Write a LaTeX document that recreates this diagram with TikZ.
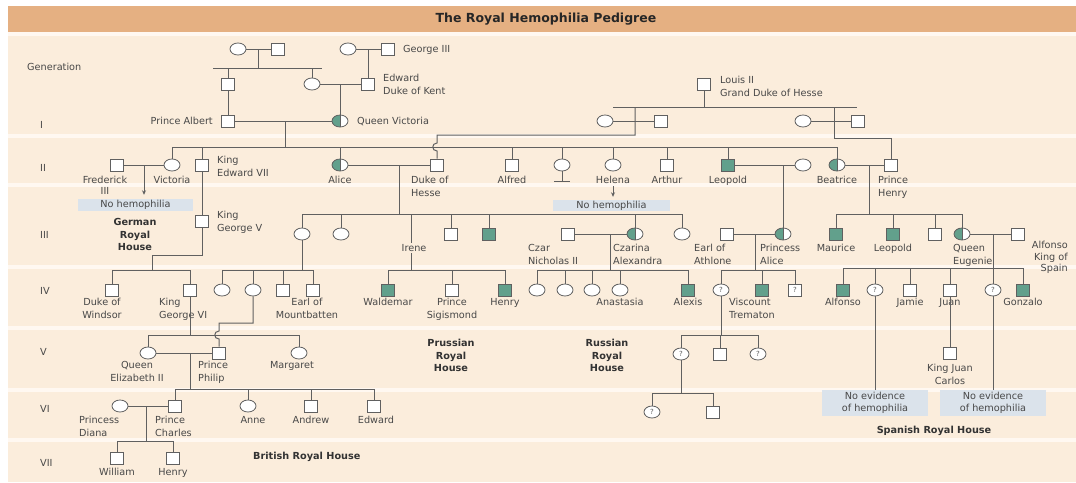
\documentclass[tikz,border=0pt]{standalone}
\usepackage{fontspec}
\setsansfont{DejaVu Sans}
\usetikzlibrary{shapes.geometric,arrows.meta,positioning}

\definecolor{bgpeach}{RGB}{251,237,220}
\definecolor{band}{RGB}{229,176,130}
\definecolor{stripe}{RGB}{255,248,241}
\definecolor{lncol}{RGB}{96,96,96}
\definecolor{carcol}{RGB}{98,160,140}
\definecolor{boxcol}{RGB}{219,227,235}
\definecolor{txtcol}{RGB}{72,72,72}

\tikzset{
  sym/.style={draw=lncol, line width=0.8pt, fill=white, inner sep=0pt},
  male/.style={sym, rectangle, minimum width=13pt, minimum height=12pt},
  fem/.style={sym, ellipse, minimum width=16pt, minimum height=12pt},
  affm/.style={male, fill=carcol},
  carrier/.style={fem, path picture={
      \fill[carcol] (path picture bounding box.south west) rectangle (path picture bounding box.north);
      \draw[lncol, line width=0.6pt] (path picture bounding box.south) -- (path picture bounding box.north);}},
  unkf/.style={fem, font=\sffamily\fontsize{7}{7}\selectfont, text=lncol},
  unkm/.style={male, font=\sffamily\fontsize{7}{7}\selectfont, text=lncol},
  lbl/.style={font=\sffamily\fontsize{9.7}{12.5}\selectfont, text=txtcol, inner sep=0pt, align=center, anchor=base},
  lbll/.style={lbl, align=left, anchor=base west},
  house/.style={lbl, font=\sffamily\bfseries\fontsize{9.7}{12.5}\selectfont, text=black!80},
  nobox/.style={fill=boxcol, inner sep=0pt, align=center, text=txtcol,
      font=\sffamily\fontsize{9.7}{12.5}\selectfont},
  ln/.style={lncol, line width=1pt},
  arr/.style={ln, -{Stealth[length=4.5pt,width=4pt]}},
}

\begin{document}
\begin{tikzpicture}[x=1pt, y=-1pt]
        \useasboundingbox (0,0) rectangle (1076,482);

        % Background and title band
        \fill[bgpeach] (8,6) rectangle (1076,482);
        \fill[band] (8,6) rectangle (1076,32);
        \foreach \y in {32,134,183,265,326,388,438}
            \fill[stripe] (8,\y) rectangle (1076,\y+4);
        \node[font=\sffamily\bfseries\fontsize{12.5}{14}\selectfont, text=black!85] (title) at (546,19) {The Royal Hemophilia Pedigree};

        % Generation labels
        \node[lbll] (gen0) at (27,70) {Generation};
        \node[lbll] (gen1) at (40,128.5) {I};
        \node[lbll] (gen2) at (40,171.5) {II};
        \node[lbll] (gen3) at (40,238.5) {III};
        \node[lbll] (gen4) at (40,294.5) {IV};
        \node[lbll] (gen5) at (40,355.5) {V};
        \node[lbll] (gen6) at (40,412.5) {VI};
        \node[lbll] (gen7) at (40,466.5) {VII};

        % Top couples
        \node[fem] (gAf) at (238,49) {};
        \node[male] (gAm) at (278,49) {};
        \node[fem] (gBf) at (348,49) {};
        \node[male] (george) at (388,49) {};
        \node[male] (albF) at (228,84) {};
        \node[fem] (vicM) at (312,84) {};
        \node[male] (edw) at (368,84) {};
        \node[lbll] at (403,52.5) {George III};
        \node[lbll] at (383,94) {Edward\\Duke of Kent};

        % Generation I
        \node[male] (albert) at (228,121) {};
        \node[carrier] (victoria) at (340,121) {};
        \node[male] (louis) at (704,84) {};
        \node[fem] (hAf) at (605,121) {};
        \node[male] (hAm) at (661,121) {};
        \node[fem] (hBf) at (803,121) {};
        \node[male] (hBm) at (858,121) {};
        \node[lbl, anchor=base east] at (213,124.5) {Prince Albert};
        \node[lbll] at (357,124.5) {Queen Victoria};
        \node[lbll] at (720,96) {Louis II\\Grand Duke of Hesse};

        % Generation II
        \node[male] (fred) at (117,165) {};
        \node[fem] (vic2) at (172,165) {};
        \node[male] (edw7) at (202,165) {};
        \node[carrier] (alice) at (340,165) {};
        \node[male] (hesse) at (437,165) {};
        \node[male] (alfred) at (512,165) {};
        \node[fem] (nnf) at (562,165) {};
        \node[fem] (helena) at (613,165) {};
        \node[male] (arthur) at (667,165) {};
        \node[affm] (leo) at (728,165) {};
        \node[fem] (leoW) at (803,165) {};
        \node[carrier] (beatrice) at (837,165) {};
        \node[male] (henry) at (891,165) {};
        \node[lbl, font=\sffamily\fontsize{9.7}{11}\selectfont] at (105,194.5) {Frederick\\III};
        \node[lbl] at (172,183.5) {Victoria};
        \node[lbll] at (217,176) {King\\Edward VII};
        \node[lbl] at (340,183.5) {Alice};
        \node[lbll] at (411,196) {Duke of\\Hesse};
        \node[lbl] at (512,183.5) {Alfred};
        \node[lbl] at (613,183.5) {Helena};
        \node[lbl] at (667,183.5) {Arthur};
        \node[lbl] at (728,183.5) {Leopold};
        \node[lbl] at (837,183.5) {Beatrice};
        \node[lbll] at (878,196) {Prince\\Henry};
        \node[nobox, minimum width=115pt, minimum height=12pt] (nh1) at (135.5,205) {No hemophilia};
        \node[nobox, minimum width=117pt, minimum height=11pt] (nh2) at (611.5,205.5) {No hemophilia};

        % Generation III
        \node[male] (kgv) at (202,221) {};
        \node[fem] (hv) at (302,234) {};
        \node[fem] (ella) at (341,234) {};
        \coordinate (irene) at (411,234);
        \node[male] (hs1) at (451,234) {};
        \node[affm] (hs2) at (489,234) {};
        \node[male] (czar) at (568,234) {};
        \node[carrier] (czarina) at (635,234) {};
        \node[fem] (hs3) at (682,234) {};
        \node[male] (athlone) at (727,234) {};
        \node[carrier] (palice) at (783,234) {};
        \node[affm] (maurice) at (836,234) {};
        \node[affm] (leo2) at (893,234) {};
        \node[male] (bs3) at (935,234) {};
        \node[carrier] (eugenie) at (962,234) {};
        \node[male] (alfonsoK) at (1018,234) {};
        \node[lbll] at (217,231) {King\\George V};
        \node[house] at (135,250.5) {German\\Royal\\House};
        \node[lbll] at (528,264) {Czar\\Nicholas II};
        \node[lbll] at (613,264) {Czarina\\Alexandra};
        \node[lbll] at (694,264) {Earl of\\Athlone};
        \node[lbll] at (760,264) {Princess\\Alice};
        \node[lbl] at (836,251.5) {Maurice};
        \node[lbl] at (893,251.5) {Leopold};
        \node[lbll] at (953,264) {Queen\\Eugenie};
        \node[lbl, align=right, anchor=base east, font=\sffamily\fontsize{9.7}{11.5}\selectfont] at (1068,271.5) {Alfonso\\King of\\Spain};

        % Generation IV
        \node[male] (dwin) at (112,290) {};
        \node[male] (kg6) at (190,290) {};
        \node[fem] (m1) at (222,290) {};
        \node[fem] (m2) at (253,290) {};
        \node[male] (m3) at (283,290) {};
        \node[male] (mount) at (313,290) {};
        \node[affm] (waldemar) at (388,290) {};
        \node[male] (sigis) at (452,290) {};
        \node[affm] (henryP) at (505,290) {};
        \node[fem] (an1) at (537,290) {};
        \node[fem] (an2) at (565,290) {};
        \node[fem] (an3) at (592,290) {};
        \node[fem] (an4) at (620,290) {};
        \node[affm] (alexis) at (688,290) {};
        \node[unkf] (tr1) at (721,290) {?};
        \node[affm] (trem) at (762,290) {};
        \node[unkm] (tr3) at (795,290) {?};
        \node[affm] (alfonso) at (843,290) {};
        \node[unkf] (sp2) at (875,290) {?};
        \node[male] (jamie) at (910,290) {};
        \node[male] (juan) at (950,290) {};
        \node[unkf] (sp5) at (993,290) {?};
        \node[affm] (gonzalo) at (1023,290) {};
        \node[lbl] at (102,318) {Duke of\\Windsor};
        \node[lbll] at (159,318) {King\\George VI};
        \node[lbl] at (307,318) {Earl of\\Mountbatten};
        \node[lbl] at (388,305.5) {Waldemar};
        \node[lbl] at (452,318) {Prince\\Sigismond};
        \node[lbl] at (505,305.5) {Henry};
        \node[lbl] at (620,305.5) {Anastasia};
        \node[lbl] at (688,305.5) {Alexis};
        \node[lbll] at (729,318) {Viscount\\Trematon};
        \node[lbl] at (843,305.5) {Alfonso};
        \node[lbl] at (910,305.5) {Jamie};
        \node[lbl] at (950,305.5) {Juan};
        \node[lbl] at (1023,305.5) {Gonzalo};

        % Generation V
        \node[fem] (eliz) at (148,353) {};
        \node[male] (philip) at (219,353) {};
        \node[fem] (marg) at (299,353) {};
        \node[unkf] (v1) at (681,354) {?};
        \node[male] (v2) at (720,354) {};
        \node[unkf] (v3) at (758,354) {?};
        \node[male] (jcarlos) at (950,353) {};
        \node[lbl] at (137,381) {Queen\\Elizabeth II};
        \node[lbll] at (198,381) {Prince\\Philip};
        \node[lbl] at (292,368.5) {Margaret};
        \node[lbl] at (950,384) {King Juan\\Carlos};
        \node[house] at (451,371.5) {Prussian\\Royal\\House};
        \node[house] at (607,371.5) {Russian\\Royal\\House};

        % Generation VI
        \node[fem] (diana) at (120,406) {};
        \node[male] (charles) at (175,406) {};
        \node[fem] (anne) at (248,406) {};
        \node[male] (andrew) at (311,406) {};
        \node[male] (edwardP) at (374,406) {};
        \node[unkf] (w1) at (652,412) {?};
        \node[male] (w2) at (713,412) {};
        \node[lbll] at (79,436) {Princess\\Diana};
        \node[lbll] at (155,436) {Prince\\Charles};
        \node[lbl] at (253,423.5) {Anne};
        \node[lbl] at (311,423.5) {Andrew};
        \node[lbl] at (376,423.5) {Edward};
        \node[nobox, minimum width=106pt, minimum height=26pt] (ne1) at (875,403) {No evidence\\of hemophilia};
        \node[nobox, minimum width=106pt, minimum height=26pt] (ne2) at (993,403) {No evidence\\of hemophilia};
        \node[house] at (934,433.5) {Spanish Royal House};

        % Generation VII
        \node[male] (william) at (117,458) {};
        \node[male] (harry) at (173,458) {};
        \node[lbl] at (117,475.5) {William};
        \node[lbl] at (173,475.5) {Henry};
        \node[house, anchor=base west] at (253,459.5) {British Royal House};

        % Lines: top couples
        \draw[ln] (gAf) -- (gAm);
        \draw[ln] (gBf) -- (george);
        \coordinate (sA) at (258,68);
        \draw[ln] (sA |- gAm) -- (sA);
        \draw[ln] ([xshift=-15pt]albF |- sA) -- ([xshift=10pt]vicM |- sA);
        \draw[ln] (albF) -- (albF |- sA);
        \draw[ln] (vicM) -- (vicM |- sA);
        \draw[ln] (edw |- george) -- (edw);
        \draw[ln] (albF) -- (albert);
        \draw[ln] (vicM) -- (edw);
        \draw[ln] (victoria |- edw) -- (victoria);

        % Victoria's children
        \draw[ln] (albert) -- (victoria);
        \coordinate (sib2) at (285,147);
        \draw[ln] (sib2 |- albert) -- (sib2);
        \draw[ln] (vic2 |- sib2) -- (beatrice |- sib2);
        \foreach \who in {vic2,edw7,alice,alfred,nnf,helena,arthur,leo,beatrice}
            \draw[ln] (\who) -- (\who |- sib2);
        \draw[ln] (nnf) -- ++(0,16) coordinate (nnfb);
        \draw[ln] ([xshift=-8pt]nnfb) -- ([xshift=8pt]nnfb);

        % Louis II of Hesse
        \coordinate (sibL) at (704,107);
        \coordinate (hAd) at (635,107);
        \coordinate (hBd) at (834,107);
        \draw[ln] (louis) -- (sibL);
        \draw[ln] ([xshift=-22pt]hAd) -- ([xshift=23pt]hBd);
        \draw[ln] (hAf) -- (hAm);
        \draw[ln] (hBf) -- (hBm);
        \draw[ln] (hAd) -- ++(0,28) -| ([yshift=4pt]hesse |- sib2)
            to[out=180, in=180, looseness=1.8] ([yshift=-4pt]hesse |- sib2) -- (hesse);
        \draw[ln] (hBd) -- ++(0,31) -| (henry);

        % Frederick III and Victoria
        \draw[ln] (fred) -- (vic2);
        \coordinate (dFV) at (144,165);
        \draw[arr] (dFV) -- ([yshift=4pt]dFV |- nh1.north);
        \draw[arr] ([yshift=-21pt]helena.center) -- ([yshift=3pt]helena |- nh2.north);

        % Edward VII line
        \coordinate (sibG) at (152,270);
        \draw[ln] (edw7) -- (kgv);
        \draw[ln] (kgv) -- ++(0,34) -| (sibG);
        \draw[ln] (dwin |- sibG) -- (kg6 |- sibG);
        \foreach \who in {dwin,kg6}
            \draw[ln] (\who) -- (\who |- sibG);

        % Alice and the Duke of Hesse
        \draw[ln] (alice) -- (hesse);
        \coordinate (sib3) at (399,214);
        \draw[ln] (sib3 |- hesse) -- (sib3);
        \draw[ln] (hv |- sib3) -- (hs3 |- sib3);
        \foreach \who in {hv,ella,hs1,hs2,czarina,hs3}
            \draw[ln] (\who) -- (\who |- sib3);

        % Irene
        \coordinate (sibI) at (411,270);
        \draw[ln] (irene |- sib3) -- (sibI);
        \node[lbl, fill=bgpeach, inner sep=1pt] at (414,251.5) {Irene};
        \draw[ln] (waldemar |- sibI) -- (henryP |- sibI);
        \foreach \who in {waldemar,sigis,henryP}
            \draw[ln] (\who) -- (\who |- sibI);

        % Czar Nicholas II
        \draw[ln] (czar) -- (czarina);
        \coordinate (sibR) at (610,270);
        \draw[ln] (sibR |- czar) -- (sibR);
        \draw[ln] (an1 |- sibR) -- (alexis |- sibR);
        \foreach \who in {an1,an2,an3,an4,alexis}
            \draw[ln] (\who) -- (\who |- sibR);

        % Victoria of Hesse
        \coordinate (sibM) at (302,270);
        \draw[ln] (hv) -- (sibM);
        \draw[ln] (m1 |- sibM) -- (mount |- sibM);
        \foreach \who in {m1,m2,m3,mount}
            \draw[ln] (\who) -- (\who |- sibM);

        % George VI and Elizabeth II
        \coordinate (sib5) at (190,335);
        \draw[ln] (kg6) -- (sib5);
        \draw[ln] (eliz |- sib5) -- (marg |- sib5);
        \draw[ln] (eliz) -- (eliz |- sib5);
        \draw[ln] (marg) -- (marg |- sib5);
        \draw[ln] (m2) -- ++(0,33) -| ([yshift=4pt]philip |- sib5)
            to[out=180, in=180, looseness=1.8] ([yshift=-4pt]philip |- sib5) -- (philip);
        \draw[ln] (eliz) -- (philip);
        \coordinate (sib6) at (190,389);
        \draw[ln] (sib6 |- philip) -- (sib6);
        \draw[ln] (charles |- sib6) -- (edwardP |- sib6);
        \foreach \who in {charles,anne,andrew,edwardP}
            \draw[ln] (\who) -- (\who |- sib6);
        \draw[ln] (diana) -- (charles);
        \coordinate (sib7) at (146,441);
        \draw[ln] (sib7 |- charles) -- (sib7);
        \draw[ln] (william |- sib7) -- (harry |- sib7);
        \foreach \who in {william,harry}
            \draw[ln] (\who) -- (\who |- sib7);

        % Leopold and Princess Alice
        \draw[ln] (leo) -- (leoW);
        \draw[ln] (palice |- leo) -- (palice);
        \draw[ln] (athlone) -- (palice);
        \coordinate (sibA) at (755,270);
        \draw[ln] (sibA |- athlone) -- (sibA);
        \draw[ln] (tr1 |- sibA) -- (tr3 |- sibA);
        \foreach \who in {tr1,trem,tr3}
            \draw[ln] (\who) -- (\who |- sibA);
        \coordinate (sibT) at (721,335);
        \draw[ln] (tr1) -- (sibT);
        \draw[ln] (v1 |- sibT) -- (v3 |- sibT);
        \foreach \who in {v1,v2,v3}
            \draw[ln] (\who) -- (\who |- sibT);
        \coordinate (sibT2) at (681,393);
        \draw[ln] (v1) -- (sibT2);
        \draw[ln] (w1 |- sibT2) -- (w2 |- sibT2);
        \foreach \who in {w1,w2}
            \draw[ln] (\who) -- (\who |- sibT2);

        % Beatrice and Prince Henry
        \draw[ln] (beatrice) -- (henry);
        \coordinate (sibB) at (869,214);
        \draw[ln] (sibB |- henry) -- (sibB);
        \draw[ln] (maurice |- sibB) -- (eugenie |- sibB);
        \foreach \who in {maurice,leo2,bs3,eugenie}
            \draw[ln] (\who) -- (\who |- sibB);

        % Queen Eugenie and Alfonso
        \draw[ln] (eugenie) -- (alfonsoK);
        \coordinate (sibS) at (993,268);
        \draw[ln] (sibS |- eugenie) -- (sibS);
        \draw[ln] (alfonso |- sibS) -- (gonzalo |- sibS);
        \foreach \who in {alfonso,sp2,jamie,juan,sp5,gonzalo}
            \draw[ln] (\who) -- (\who |- sibS);
        \draw[ln] (sp2) -- (ne1);
        \draw[ln] (sp5) -- (ne2);
        \draw[ln] (juan) -- (jcarlos);

    \end{tikzpicture}
\end{document}
